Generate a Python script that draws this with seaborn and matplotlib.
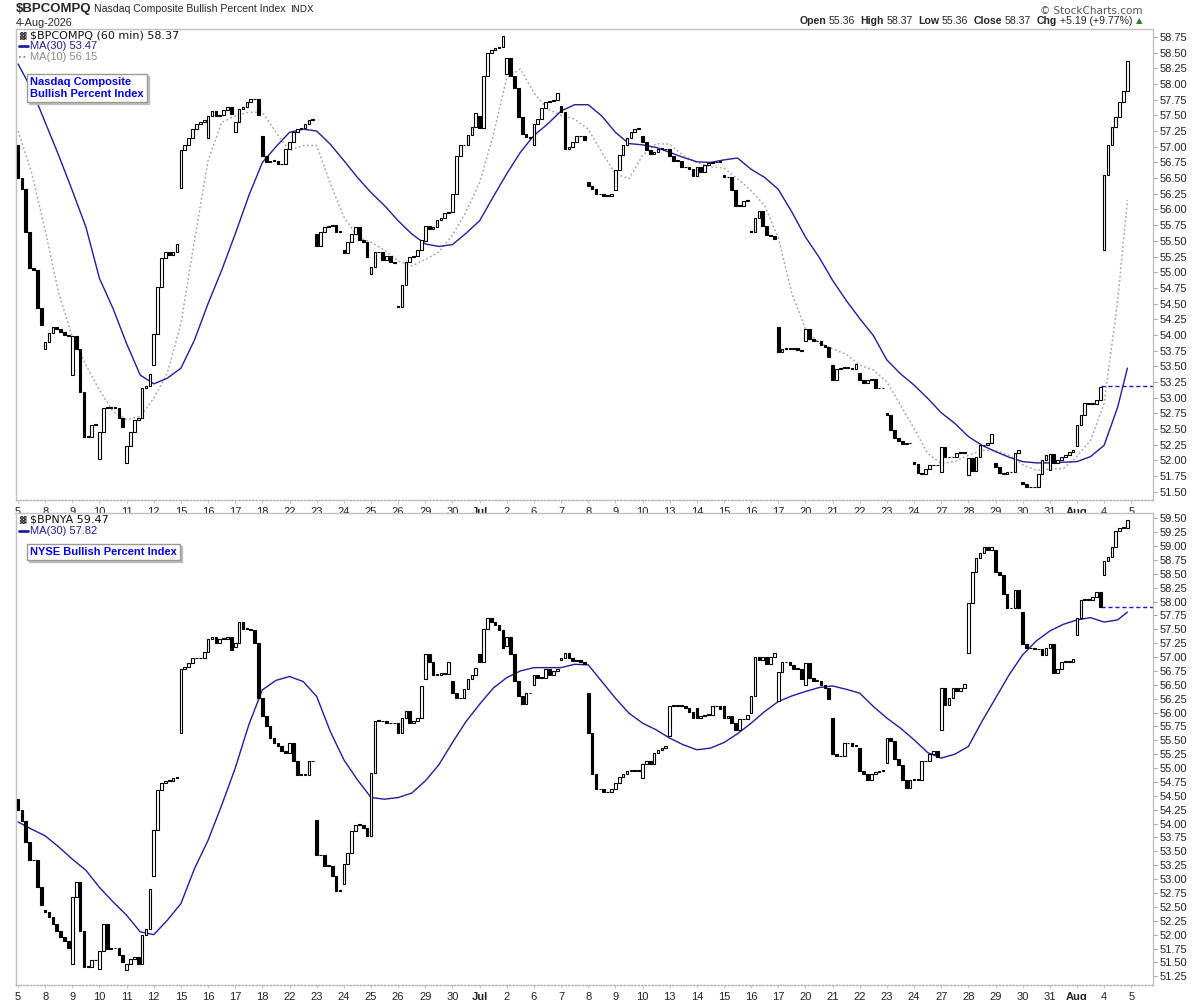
import numpy as np
import pandas as pd
import matplotlib
matplotlib.use("Agg")
import matplotlib.pyplot as plt
import matplotlib.transforms as mtransforms
import seaborn as sns

# ---------------- data ----------------
day_labels = ["5", "8", "9", "10", "11", "12", "15", "16", "17", "18", "22", "23", "24", "25", "26",
              "29", "30", "Jul", "2", "6", "7", "8", "9", "10", "13", "14", "15", "16", "17", "20",
              "21", "22", "23", "24", "27", "28", "29", "30", "31", "Aug", "4", "5"]
month_labels = ["Jul", "Aug"]

# $BPCOMPQ hourly: open of first bar of each day, then 7 hourly closes per day
nas_day_open = [57.02, 53.78, 53.36, 52.02, 51.95, 53.52, 56.35, 57.14, 57.24, 57.17,
                56.96, 55.61, 55.35, 54.97, 54.46, 55.50, 55.96, 57.49, 58.16, 57.02,
                57.65, 56.44, 56.31, 57.17, 56.96, 56.54, 56.55, 55.65, 54.12, 53.91,
                53.52, 53.40, 52.75, 51.97, 51.82, 51.76, 51.96, 51.66, 51.85, 52.23, 55.36]
nas_closes = [
    [56.50, 56.33, 55.64, 55.07, 55.04, 54.43, 54.15],
    [53.88, 54.03, 54.13, 54.10, 54.05, 54.00, 53.98],
    [53.99, 53.78, 53.09, 52.38, 52.38, 52.56, 52.58],
    [52.45, 52.84, 52.84, 52.84, 52.84, 52.67, 52.53],
    [52.23, 52.45, 52.64, 52.68, 53.15, 53.18, 53.38],
    [54.02, 54.76, 55.23, 55.32, 55.27, 55.32, 55.45],
    [56.95, 57.02, 57.14, 57.28, 57.36, 57.39, 57.42],
    [57.49, 57.57, 57.49, 57.50, 57.58, 57.64, 57.52],
    [57.39, 57.60, 57.64, 57.71, 57.76, 57.76, 57.51],
    [56.86, 56.75, 56.78, 56.78, 56.72, 56.73, 56.96],
    [57.07, 57.23, 57.28, 57.30, 57.36, 57.42, 57.45],
    [55.41, 55.64, 55.72, 55.74, 55.76, 55.64, 55.65],
    [55.31, 55.48, 55.61, 55.72, 55.51, 55.48, 55.25],
    [55.08, 55.32, 55.32, 55.19, 55.26, 55.16, 55.15],
    [54.45, 54.79, 55.16, 55.24, 55.26, 55.36, 55.51],
    [55.73, 55.69, 55.72, 55.83, 55.87, 55.94, 55.96],
    [56.25, 56.86, 57.02, 57.03, 57.19, 57.32, 57.53],
    [57.30, 58.13, 58.50, 58.55, 58.57, 58.59, 58.76],
    [58.42, 58.13, 57.94, 57.47, 57.20, 57.16, 57.14],
    [57.36, 57.44, 57.62, 57.71, 57.73, 57.75, 57.85],
    [57.55, 56.96, 57.00, 57.07, 57.17, 57.17, 57.10],
    [56.38, 56.32, 56.24, 56.25, 56.22, 56.22, 56.24],
    [56.63, 56.87, 57.02, 57.14, 57.23, 57.28, 57.30],
    [57.07, 56.94, 56.89, 56.91, 56.97, 56.97, 56.96],
    [56.86, 56.78, 56.78, 56.68, 56.67, 56.65, 56.54],
    [56.67, 56.60, 56.71, 56.74, 56.75, 56.76, 56.77],
    [56.51, 56.51, 56.31, 56.06, 56.06, 56.14, 56.15],
    [55.64, 55.87, 55.97, 55.74, 55.60, 55.58, 55.53],
    [53.73, 53.78, 53.78, 53.78, 53.79, 53.76, 53.75],
    [54.10, 53.94, 53.90, 53.90, 53.84, 53.81, 53.64],
    [53.28, 53.45, 53.48, 53.48, 53.48, 53.46, 53.53],
    [53.28, 53.23, 53.28, 53.30, 53.15, 53.15, 53.15],
    [52.73, 52.49, 52.35, 52.31, 52.26, 52.27, 52.27],
    [51.94, 51.80, 51.79, 51.86, 51.92, 51.92, 51.93],
    [52.21, 52.05, 52.05, 52.05, 52.12, 52.12, 52.14],
    [52.03, 51.83, 52.05, 52.24, 52.24, 52.28, 52.42],
    [51.90, 51.80, 51.79, 51.81, 51.81, 52.11, 52.16],
    [51.62, 51.58, 51.57, 51.57, 51.78, 52.00, 52.08],
    [52.10, 51.96, 52.00, 52.05, 52.09, 52.13, 52.17],
    [52.56, 52.72, 52.91, 52.90, 52.90, 52.96, 53.17],
    [56.55, 57.03, 57.32, 57.48, 57.72, 57.89, 58.37],
]
# moving averages every half day (start and middle of each day), plus the last bar
nas_ma30 = [58.32, 57.92, 57.39, 56.86, 56.30, 55.72, 54.90, 54.42, 53.86, 53.36,
            53.22, 53.31, 53.47, 53.92, 54.50, 55.03, 55.61, 56.22, 56.75, 57.00,
            57.23, 57.28, 57.25, 57.04, 56.78, 56.51, 56.27, 56.06, 55.82, 55.61,
            55.45, 55.41, 55.44, 55.62, 55.82, 56.20, 56.57, 56.91, 57.18, 57.36,
            57.57, 57.67, 57.67, 57.49, 57.23, 57.05, 57.03, 56.99, 56.91, 56.83,
            56.76, 56.75, 56.79, 56.82, 56.64, 56.51, 56.32, 55.96, 55.56, 55.24,
            54.87, 54.55, 54.26, 53.99, 53.60, 53.38, 53.20, 52.99, 52.76, 52.59,
            52.38, 52.24, 52.14, 52.05, 51.98, 51.96, 51.96, 51.97, 51.98, 52.06,
            52.24, 52.85, 53.47]
nas_ma10 = [57.25, 56.59, 55.67, 54.66, 53.97, 53.52, 53.12, 52.78, 52.65, 52.70,
            52.99, 53.39, 54.18, 55.51, 56.78, 57.39, 57.49, 57.55, 57.55, 57.23,
            56.94, 57.02, 57.02, 56.41, 55.88, 55.57, 55.48, 55.35, 55.18, 55.10,
            55.20, 55.32, 55.59, 55.96, 56.43, 57.18, 58.10, 58.24, 57.86, 57.60,
            57.50, 57.44, 57.28, 56.91, 56.57, 56.49, 56.86, 57.05, 57.04, 56.86,
            56.75, 56.68, 56.66, 56.49, 56.30, 56.06, 55.55, 54.66, 54.10, 53.87,
            53.78, 53.69, 53.52, 53.44, 53.25, 52.88, 52.51, 52.11, 51.95, 51.98,
            52.08, 52.16, 52.16, 52.08, 51.93, 51.84, 51.86, 51.87, 52.06, 52.32,
            52.91, 54.55, 56.15]
nas_prev_close = 53.18

# $BPNYA hourly
nya_day_open = [54.45, 52.45, 51.48, 51.39, 51.36, 53.06, 55.63, 57.10, 57.19, 56.26,
                55.27, 54.06, 52.92, 53.77, 55.81, 56.60, 56.56, 57.05, 57.20, 56.50,
                56.95, 56.35, 54.62, 54.83, 55.57, 56.08, 56.11, 56.00, 56.20, 56.50,
                55.90, 55.37, 55.09, 54.79, 55.69, 57.07, 58.93, 57.82, 57.16, 57.40, 58.48]
nya_closes = [
    [54.24, 54.05, 53.67, 53.34, 53.34, 52.85, 52.53],
    [52.40, 52.32, 52.19, 52.07, 51.95, 51.88, 51.76],
    [52.68, 52.94, 52.06, 51.42, 51.42, 51.54, 51.54],
    [51.70, 52.20, 51.75, 51.76, 51.76, 51.63, 51.51],
    [51.48, 51.57, 51.60, 51.48, 52.00, 52.11, 52.82],
    [53.88, 54.61, 54.73, 54.77, 54.77, 54.83, 54.83],
    [56.79, 56.83, 56.90, 56.98, 56.98, 56.98, 57.10],
    [57.33, 57.37, 57.25, 57.33, 57.33, 57.37, 57.13],
    [57.25, 57.63, 57.51, 57.51, 57.49, 57.25, 56.26],
    [55.93, 55.75, 55.54, 55.46, 55.40, 55.30, 55.27],
    [55.46, 55.12, 54.88, 54.88, 54.88, 55.12, 55.12],
    [53.43, 53.43, 53.24, 53.24, 53.05, 52.79, 52.79],
    [53.27, 53.47, 53.86, 53.98, 53.98, 53.92, 53.78],
    [54.91, 55.85, 55.85, 55.84, 55.81, 55.81, 55.81],
    [55.63, 55.90, 56.02, 55.82, 55.84, 55.90, 56.47],
    [57.05, 56.92, 56.68, 56.68, 56.72, 56.70, 56.92],
    [56.35, 56.26, 56.26, 56.43, 56.61, 56.68, 56.80],
    [56.92, 57.51, 57.70, 57.63, 57.57, 57.49, 57.17],
    [57.37, 57.05, 56.56, 56.29, 56.15, 56.35, 56.35],
    [56.68, 56.63, 56.63, 56.78, 56.68, 56.75, 56.79],
    [56.99, 57.07, 56.99, 56.93, 56.95, 56.92, 56.87],
    [55.63, 54.89, 54.62, 54.62, 54.57, 54.57, 54.62],
    [54.74, 54.84, 54.89, 54.95, 54.95, 54.95, 54.95],
    [55.07, 55.13, 55.07, 55.27, 55.33, 55.37, 55.40],
    [56.11, 56.14, 56.12, 56.12, 56.08, 56.01, 55.91],
    [55.91, 55.93, 55.96, 55.96, 56.11, 56.11, 56.06],
    [55.90, 55.94, 55.82, 55.69, 55.88, 55.88, 55.95],
    [56.29, 57.01, 56.95, 57.01, 56.87, 57.01, 57.07],
    [56.73, 56.91, 56.91, 56.85, 56.79, 56.79, 56.61],
    [56.89, 56.63, 56.57, 56.57, 56.50, 56.45, 56.25],
    [55.25, 55.21, 55.21, 55.45, 55.45, 55.40, 55.40],
    [54.95, 54.89, 54.79, 54.89, 54.93, 54.95, 54.95],
    [55.54, 55.48, 55.16, 55.06, 54.79, 54.64, 54.79],
    [54.79, 54.79, 55.12, 55.12, 55.25, 55.30, 55.20],
    [56.45, 56.14, 56.26, 56.45, 56.39, 56.45, 56.51],
    [57.97, 58.54, 58.79, 58.87, 58.99, 58.93, 58.99],
    [58.54, 58.47, 58.13, 57.88, 57.88, 58.21, 57.88],
    [57.23, 57.17, 57.16, 57.14, 57.14, 57.04, 57.16],
    [57.23, 56.71, 56.79, 56.92, 56.92, 56.92, 56.97],
    [57.71, 58.03, 58.03, 58.03, 58.09, 58.17, 57.91],
    [58.73, 58.81, 58.99, 59.27, 59.33, 59.33, 59.47],
]
nya_ma30 = [54.03, 53.90, 53.78, 53.58, 53.36, 53.16, 52.85, 52.59, 52.35, 52.05,
            52.00, 52.26, 52.56, 53.19, 53.70, 54.33, 55.00, 55.78, 56.41, 56.58,
            56.65, 56.56, 56.29, 55.66, 55.15, 54.79, 54.47, 54.44, 54.47, 54.55,
            54.77, 55.06, 55.46, 55.84, 56.15, 56.44, 56.63, 56.75, 56.81, 56.81,
            56.81, 56.87, 56.86, 56.56, 56.26, 55.99, 55.81, 55.69, 55.54, 55.42,
            55.33, 55.36, 55.46, 55.62, 55.81, 56.02, 56.20, 56.30, 56.38, 56.45,
            56.48, 56.42, 56.35, 56.11, 55.90, 55.72, 55.51, 55.28, 55.18, 55.25,
            55.39, 55.84, 56.26, 56.68, 57.04, 57.29, 57.47, 57.59, 57.67, 57.71,
            57.63, 57.67, 57.81]
nya_prev_close = 57.91

BARS_PER_DAY = 7


def build_bars(day_open, closes):
    rows = []
    for d, (o, cl) in enumerate(zip(day_open, closes)):
        prev = o
        for j, c in enumerate(cl):
            rows.append({"i": d * BARS_PER_DAY + j, "open": prev, "close": c})
            prev = c
    return pd.DataFrame(rows)


nas = build_bars(nas_day_open, nas_closes)
nya = build_bars(nya_day_open, nya_closes)
n_bars = len(nas)
n_days = len(nas_day_open)
ma_x = [m * BARS_PER_DAY / 2 for m in range(2 * n_days)] + [n_bars - 1]

# ---------------- style ----------------
sns.set_theme(style="white")
plt.rcParams["font.family"] = ["Liberation Sans", "DejaVu Sans"]

W, H = 1200, 1000
fig = plt.figure(figsize=(12, 10), dpi=100, facecolor="white")
renderer = fig.canvas.get_renderer()


def fx(px):
    return px / W


def fy(py):
    return 1 - py / H


XLIM = (-0.52, 292.6)
ax1 = fig.add_axes([fx(16), fy(500), fx(1153 - 16), (500 - 29) / H])
ax2 = fig.add_axes([fx(16), fy(985), fx(1153 - 16), (985 - 513) / H])

MA30_COL = "#1f1f9a"
MA10_COL = "#a8a8a8"


def draw_candles(ax, df):
    h = (df["close"] - df["open"]).to_numpy()
    h = np.where(np.abs(h) < 0.008, 0.008, h)
    face = np.where(df["close"] >= df["open"], "white", "black")
    ax.bar(df["i"], h, bottom=df["open"], width=0.68, color=face,
           edgecolor="black", linewidth=0.8, zorder=3)


def style_axis(ax, ylim, yticks):
    ax.set_xlim(*XLIM)
    ax.set_ylim(*ylim)
    ax.set_facecolor("white")
    ax.yaxis.tick_right()
    ax.set_yticks(yticks)
    ax.set_yticklabels([f"{v:.2f}" for v in yticks])
    ax.tick_params(axis="y", right=True, left=False, length=3, width=0.6,
                   color="#888888", pad=1.5, labelsize=8, labelcolor="#222222")
    ticks = [k * BARS_PER_DAY for k in range(len(day_labels))]
    ax.set_xticks(ticks)
    ax.set_xticklabels(day_labels)
    for lab in ax.get_xticklabels():
        if lab.get_text() in month_labels:
            lab.set_fontweight("bold")
    ax.tick_params(axis="x", bottom=True, length=2, width=0.6, color="#bbbbbb",
                   pad=3, labelsize=8, labelcolor="#222222")
    for s in ["top", "left", "right"]:
        ax.spines[s].set_color("#c0c0c0")
        ax.spines[s].set_linewidth(1)
    ax.spines["bottom"].set_color("#b0b0b0")
    ax.spines["bottom"].set_linestyle((0, (1, 1.5)))
    ax.spines["bottom"].set_linewidth(1)
    ax.grid(False)
    ax.set_xlabel("")
    ax.set_ylabel("")


# top panel
draw_candles(ax1, nas)
sns.lineplot(x=ma_x, y=nas_ma10, ax=ax1, color=MA10_COL, linewidth=1.1,
             linestyle=(0, (1.2, 1.6)), estimator=None, sort=False, zorder=2)
sns.lineplot(x=ma_x, y=nas_ma30, ax=ax1, color=MA30_COL, linewidth=1.0,
             estimator=None, sort=False, zorder=2)
ax1.hlines(nas_prev_close, n_bars - 1 - 6.7, XLIM[1], colors="#1a1acc",
           linestyles=(0, (3, 2)), linewidth=1.0, zorder=2)
style_axis(ax1, (51.368, 58.877), np.arange(51.50, 58.76, 0.25))

# bottom panel
draw_candles(ax2, nya)
sns.lineplot(x=ma_x, y=nya_ma30, ax=ax2, color=MA30_COL, linewidth=1.0,
             estimator=None, sort=False, zorder=2)
ax2.hlines(nya_prev_close, n_bars - 1 - 6.7, XLIM[1], colors="#1a1acc",
           linestyles=(0, (3, 2)), linewidth=1.0, zorder=2)
style_axis(ax2, (51.093, 59.595), np.arange(51.25, 59.51, 0.25))


# ---------------- header texts ----------------
def text_right_edge(t):
    return t.get_window_extent(renderer).x1


t1 = fig.text(fx(16), fy(9), "$BPCOMPQ", fontsize=9.5, fontweight="bold", va="center", ha="left")
t2 = fig.text(fx(94), fy(9), "Nasdaq Composite Bullish Percent Index", fontsize=7.6,
              va="center", ha="left")
fig.text((text_right_edge(t2) + 5) / W, fy(9), "INDX", fontsize=6.8, family="DejaVu Sans",
         va="center", ha="left")
fig.text(fx(16), fy(22.5), "4-Aug-2026", fontsize=7.8, va="center", ha="left")
fig.text(fx(1143), fy(10.5), "\u00a9 StockCharts.com", fontsize=7.5, color="#555555",
         va="center", ha="right", family="DejaVu Sans")

hdr = [("Open", True), ("55.36", False), ("High", True), ("58.37", False),
       ("Low", True), ("55.36", False), ("Close", True), ("58.37", False),
       ("Chg", True), ("+5.19 (+9.77%)", False)]
pieces = []
for t, b in hdr:
    pieces.append((fig.text(0, fy(21), t, fontsize=7.6, fontweight="bold" if b else "normal",
                            va="center", ha="left"), b))
widths = [p.get_window_extent(renderer).width for p, _ in pieces]
gaps = [3 if b else 5 for _, b in pieces]
total = sum(widths) + sum(gaps[:-1])
xcur = 1132 - total
for (p, b), w, g in zip(pieces, widths, gaps):
    p.set_x(xcur / W)
    xcur += w + g
fig.text(fx(1139), fy(21), "\u25b2", fontsize=6, color="#2e7d32", va="center", ha="center",
         family="DejaVu Sans")


# ---------------- in-panel legends ----------------
def legend_block(lines, top_px):
    for k, (txt, col, swatch, fam) in enumerate(lines):
        y = top_px + k * 11
        if swatch == "solid":
            fig.add_artist(plt.Line2D([fx(19), fx(28)], [fy(y), fy(y)], color=col, lw=2,
                                      transform=fig.transFigure))
        elif swatch == "dot":
            fig.add_artist(plt.Line2D([fx(19), fx(28)], [fy(y), fy(y)], color=col, lw=1.3,
                                      linestyle=(0, (1, 1.5)), transform=fig.transFigure))
        elif swatch == "icon":
            fig.text(fx(19), fy(y), "\u2593", fontsize=6, color="#333333", va="center",
                     ha="left", family="DejaVu Sans")
        fig.text(fx(30), fy(y), txt, fontsize=8, color=col, va="center", ha="left",
                 family=fam)


legend_block([("$BPCOMPQ (60 min) 58.37", "#111111", "icon", "DejaVu Sans"),
              ("MA(30) 53.47", MA30_COL, "solid", "Liberation Sans"),
              ("MA(10) 56.15", "#8a8a8a", "dot", "Liberation Sans")], 35)
legend_block([("$BPNYA 59.47", "#111111", "icon", "DejaVu Sans"),
              ("MA(30) 57.82", MA30_COL, "solid", "Liberation Sans")], 520)


def label_box(x_px, y_px, text):
    shadow = mtransforms.offset_copy(fig.transFigure, fig=fig, x=2, y=-2, units="dots")
    common = dict(fontsize=8, fontweight="bold", va="top", ha="left", linespacing=1.25)
    fig.text(fx(x_px), fy(y_px), text, color=(0, 0, 0, 0), transform=shadow,
             bbox=dict(boxstyle="square,pad=0.3", facecolor="#bdbdbd", edgecolor="#bdbdbd",
                       linewidth=1), zorder=5, **common)
    fig.text(fx(x_px), fy(y_px), text, color="#0000ee",
             bbox=dict(boxstyle="square,pad=0.3", facecolor="white", edgecolor="#999999",
                       linewidth=1), zorder=6, **common)


label_box(30, 77, "Nasdaq Composite\nBullish Percent Index")
label_box(30, 547, "NYSE Bullish Percent Index")

fig.savefig("out.png", dpi=100, facecolor="white")
